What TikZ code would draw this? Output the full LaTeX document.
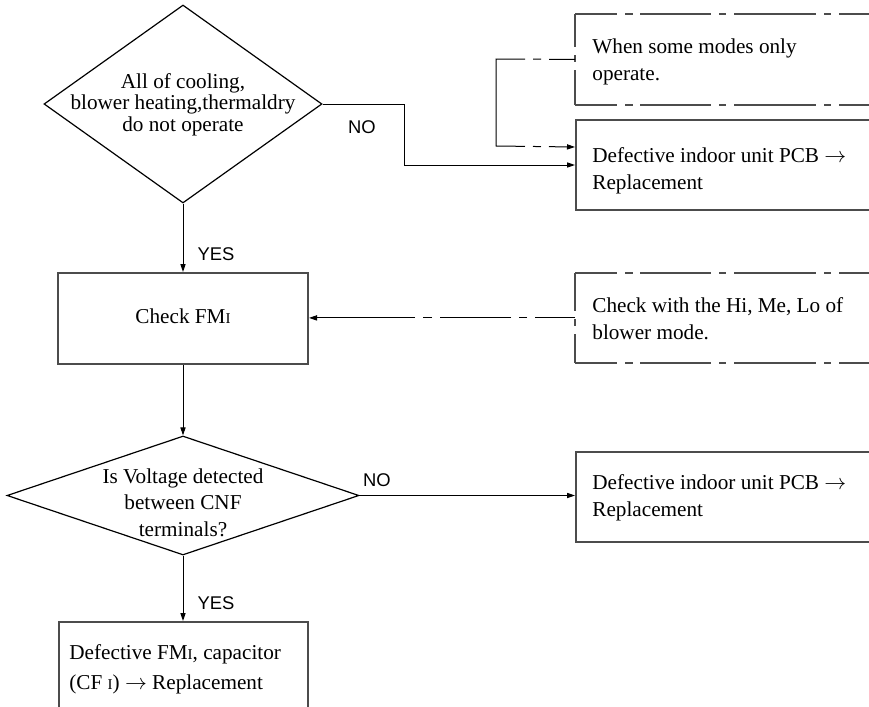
\documentclass[tikz,border=0pt]{standalone}
\usepackage{fontspec}
\setmainfont{Liberation Serif}
\newfontfamily\labfont{Liberation Sans}
\usetikzlibrary{arrows.meta,shapes.geometric}
\newcommand\smI{{\fontsize{7.5}{7.5}\selectfont I}}
\newcommand\rar{$\rightarrow$}
\begin{document}
\begin{tikzpicture}[x=0.5pt,y=-0.5pt,
  body/.style={font=\fontsize{10.6}{13.5}\selectfont, inner sep=0pt, align=left},
  lab/.style={font=\labfont\fontsize{9.2}{10}\selectfont, inner sep=0pt},
  sbox/.style={draw=black!70, line width=1pt, rectangle, inner sep=0pt, minimum width=162.5pt, minimum height=45pt},
  obox/.style={draw=none, rectangle, inner sep=0pt, minimum width=162.5pt, minimum height=45pt},
  dia/.style={diamond, draw, line width=0.6pt, inner sep=0pt},
  conn/.style={line width=0.5pt},
  arr/.style={conn, -{Triangle[length=4pt,width=2.6pt]}},
  ddh/.style={draw=black!70, line width=1pt, dash pattern=on 21pt off 4pt on 4pt off 3.5pt on 35.5pt off 4pt on 3.5pt off 4pt on 41pt off 4pt on 3.5pt off 4pt on 60pt off 0pt},
  ddv/.style={draw=black!70, line width=1pt, dash pattern=on #1 off 4pt on 3.5pt off 4pt on 40pt off 0pt},
]
\clip (0,0) rectangle (869,707);

% decision 1
\node[dia, minimum width=139pt, minimum height=99pt] (d1) at (183,104) {};
\node[body, align=center, font=\fontsize{10.6}{10.75}\selectfont, anchor=base] (td1) at (183,131) {All of cooling,\\blower heating,thermaldry\\do not operate};

% top right boxes
\node[obox, anchor=north west] (m1) at (575,14) {};
\draw[ddh] (m1.north west) -- (m1.north east);
\draw[ddh] (m1.south west) -- (m1.south east);
\draw[ddv=16.5pt] (m1.north west) -- (m1.south west);
\node[body, anchor=base west] (tm1) at (592,80) {When some modes only\\operate.};

\node[sbox, anchor=north west] (defA) at (575,119) {};
\node[body, anchor=base west] (tdefA) at (592,189) {Defective indoor unit PCB \rar\\Replacement};

% check FMI
\node[sbox, minimum width=125pt, minimum height=45.5pt] (chk) at (183,318.5) {};
\node[body, anchor=base] (tchk) at (183,323) {Check FM\smI};

\node[obox, anchor=north west, minimum height=44.5pt] (cw) at (575,273) {};
\draw[ddh] (cw.north west) -- (cw.north east);
\draw[ddh] (cw.south west) -- (cw.south east);
\draw[ddv=19pt] (cw.north west) -- (cw.south west);
\node[body, anchor=base west] (tcw) at (592,339) {Check with the Hi, Me, Lo of\\blower mode.};

% decision 2
\node[dia, minimum width=176pt, minimum height=59.5pt] (d2) at (183,495.5) {};
\node[body, align=center, font=\fontsize{10.6}{13.25}\selectfont, anchor=base] (td2) at (183,536) {Is Voltage detected\\between CNF\\terminals?};

\node[sbox, anchor=north west] (defB) at (575,450.5) {};
\node[body, anchor=base west] (tdefB) at (592,516) {Defective indoor unit PCB \rar\\Replacement};

\node[sbox, anchor=north, minimum width=124.5pt, minimum height=60pt] (bot) at (183,621) {};
\node[body, anchor=base west, font=\fontsize{10.6}{15}\selectfont] (tbot) at (69,689) {Defective FM\smI, capacitor\\(CF \smI) \rar{} Replacement};

% connectors
\coordinate (k1) at (404,104);
\draw[arr] (d1.east) -- (k1) |- (defA.west);
\node[lab] (no1) at (362,127) {NO};

\coordinate (k2) at (496,59);
\coordinate (k3) at (496,146);
\draw[arr, dash pattern=on 13pt off 4pt on 4pt off 4pt on 72.5pt off 4pt on 4pt off 4pt on 30pt off 0pt] (m1.west) -- (k2) -- (k3) -- ([yshift=9pt]defA.west);

\draw[arr] (d1.south) -- (d1.south |- chk.north);
\node[lab] (yes1) at (216,254) {YES};

\draw[arr, dash pattern=on 20pt off 4pt on 4pt off 4pt on 35.5pt off 4pt on 4.5pt off 4pt on 80pt off 0pt] (cw.west) -- (chk.east |- cw.west);

\draw[arr] (chk.south) -- (chk.south |- d2.north);

\draw[arr] (d2.east) -- (d2.east -| defB.west);
\node[lab] (no2) at (377,480) {NO};

\draw[arr] (d2.south) -- (d2.south |- bot.north);
\node[lab] (yes2) at (216,603) {YES};
\end{tikzpicture}
\end{document}
